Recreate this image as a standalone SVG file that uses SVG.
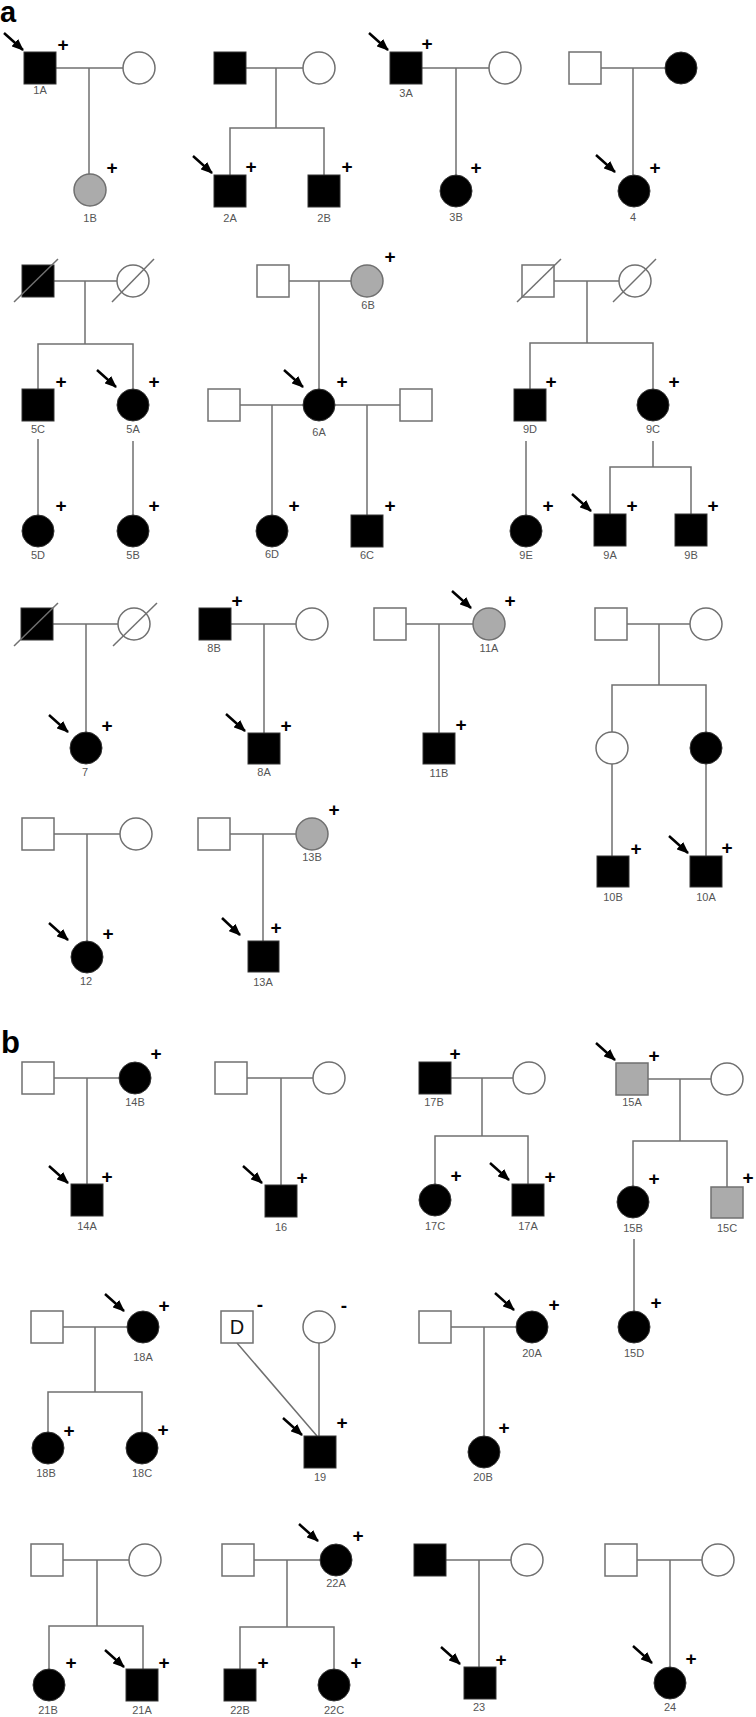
<svg xmlns="http://www.w3.org/2000/svg" width="756" height="1717" viewBox="0 0 756 1717">
<style>
.ln{stroke:#707070;stroke-width:1.5;fill:none}
.o{fill:#fff;stroke:#707070;stroke-width:1.5}
.f{fill:#000;stroke:#333;stroke-width:1}
.g{fill:#ababab;stroke:#707070;stroke-width:1.5}
.sl{stroke:#707070;stroke-width:1.5}
.lb{font-family:"Liberation Sans",Arial,sans-serif;font-size:11px;fill:#555;text-anchor:middle}
.p{font-family:"Liberation Sans",Arial,sans-serif;font-size:19px;font-weight:bold;fill:#000;text-anchor:middle}
.ar{stroke:#000;stroke-width:2.5;marker-end:url(#ah)}
.hd{font-family:"Liberation Sans",Arial,sans-serif;font-weight:bold;fill:#000}
</style>
<defs>
<marker id="ah" markerUnits="userSpaceOnUse" markerWidth="12" markerHeight="10" refX="11" refY="5" orient="auto">
<path d="M0,0 L12,5 L0,10 z" fill="#000"/>
</marker>
</defs>
<rect width="756" height="1717" fill="#fff"/>
<text class="hd" x="0" y="22" font-size="29">a</text>
<text class="hd" x="1" y="1053" font-size="31">b</text>

<g id="connectors">
<path class="ln" d="M56,68H123M89,68V174"/>
<path class="ln" d="M246,68H303M276,68V128M230,175V128H324V175"/>
<path class="ln" d="M422,68H489M456,68V175"/>
<path class="ln" d="M601,68H665M633,68V175"/>
<path class="ln" d="M53,281H117M85,281V344M38,389V344H133V389M38,439V515M133,441V515"/>
<path class="ln" d="M289,281H351M319,281V389M240,405H303M272,405V515M335,405H400M367,405V515"/>
<path class="ln" d="M554,281H619M587,281V343M530,389V343H653V389M526,441V515M653,441V467M610,514V467H691V514"/>
<path class="ln" d="M53,624H118M86,624V732"/>
<path class="ln" d="M231,624H296M264,624V733"/>
<path class="ln" d="M406,624H473M439,624V733"/>
<path class="ln" d="M627,624H690M659,624V685M612,732V685H706V732M612,764V856M706,764V856"/>
<path class="ln" d="M54,834H120M87,834V941"/>
<path class="ln" d="M230,834H296M263,834V941"/>
<path class="ln" d="M54,1078H119M87,1078V1184"/>
<path class="ln" d="M247,1078H313M281,1078V1185"/>
<path class="ln" d="M451,1078H513M482,1078V1136M435,1184V1136H528V1184"/>
<path class="ln" d="M648,1079H711M680,1079V1141M633,1186V1141H727V1187M634,1239V1311"/>
<path class="ln" d="M63,1327H127M95,1327V1392M48,1432V1392H142V1432"/>
<path class="ln" d="M237,1343L317,1436M319,1343V1436"/>
<path class="ln" d="M451,1327H516M484,1327V1436"/>
<path class="ln" d="M63,1560H129M97,1560V1626M49,1669V1626H143V1669"/>
<path class="ln" d="M254,1560H320M287,1560V1627M240,1669V1627H334V1669"/>
<path class="ln" d="M446,1560H511M479,1560V1667"/>
<path class="ln" d="M637,1560H702M670,1560V1667"/>
</g>

<g id="n1A"><rect class="f" x="24" y="52" width="32" height="32"/><text class="lb" x="40" y="94">1A</text><text class="p" x="63" y="51">+</text><line class="ar" x1="4" y1="33" x2="23" y2="50"/></g>
<g id="n1W"><circle class="o" cx="139" cy="68" r="16"/></g>
<g id="n1B"><circle class="g" cx="90" cy="190" r="16"/><text class="lb" x="90" y="222">1B</text><text class="p" x="112" y="174">+</text></g>

<g id="n2F"><rect class="f" x="214" y="52" width="32" height="32"/></g>
<g id="n2M"><circle class="o" cx="319" cy="68" r="16"/></g>
<g id="n2A"><rect class="f" x="214" y="175" width="32" height="32"/><text class="lb" x="230" y="222">2A</text><text class="p" x="251" y="173">+</text><line class="ar" x1="193" y1="156" x2="212" y2="173"/></g>
<g id="n2B"><rect class="f" x="308" y="175" width="32" height="32"/><text class="lb" x="324" y="222">2B</text><text class="p" x="347" y="173">+</text></g>

<g id="n3A"><rect class="f" x="390" y="52" width="32" height="32"/><text class="lb" x="406" y="97">3A</text><text class="p" x="427" y="50">+</text><line class="ar" x1="369" y1="33" x2="388" y2="50"/></g>
<g id="n3M"><circle class="o" cx="505" cy="68" r="16"/></g>
<g id="n3B"><circle class="f" cx="456" cy="191" r="16"/><text class="lb" x="456" y="221">3B</text><text class="p" x="476" y="174">+</text></g>

<g id="n4F"><rect class="o" x="569" y="52" width="32" height="32"/></g>
<g id="n4M"><circle class="f" cx="681" cy="68" r="16"/></g>
<g id="n4"><circle class="f" cx="634" cy="191" r="16"/><text class="lb" x="633" y="221">4</text><text class="p" x="655" y="174">+</text><line class="ar" x1="596" y1="155" x2="615" y2="172"/></g>

<g id="n5F"><rect class="f" x="22" y="265" width="32" height="32"/><line class="sl" x1="14" y1="302" x2="58" y2="259"/></g>
<g id="n5M"><circle class="o" cx="133" cy="281" r="16"/><line class="sl" x1="112" y1="302" x2="154" y2="259"/></g>
<g id="n5C"><rect class="f" x="22" y="389" width="32" height="32"/><text class="lb" x="38" y="433">5C</text><text class="p" x="61" y="388">+</text></g>
<g id="n5A"><circle class="f" cx="133" cy="405" r="16"/><text class="lb" x="133" y="433">5A</text><text class="p" x="154" y="388">+</text><line class="ar" x1="97" y1="370" x2="116" y2="387"/></g>
<g id="n5D"><circle class="f" cx="38" cy="531" r="16"/><text class="lb" x="38" y="559">5D</text><text class="p" x="61" y="512">+</text></g>
<g id="n5B"><circle class="f" cx="133" cy="531" r="16"/><text class="lb" x="133" y="559">5B</text><text class="p" x="154" y="512">+</text></g>

<g id="n6F"><rect class="o" x="257" y="265" width="32" height="32"/></g>
<g id="n6B"><circle class="g" cx="367" cy="281" r="16"/><text class="lb" x="368" y="309">6B</text><text class="p" x="390" y="263">+</text></g>
<g id="n6A"><circle class="f" cx="319" cy="405" r="16"/><text class="lb" x="319" y="436">6A</text><text class="p" x="342" y="388">+</text><line class="ar" x1="284" y1="370" x2="303" y2="387"/></g>
<g id="n6S1"><rect class="o" x="208" y="389" width="32" height="32"/></g>
<g id="n6S2"><rect class="o" x="400" y="389" width="32" height="32"/></g>
<g id="n6D"><circle class="f" cx="272" cy="531" r="16"/><text class="lb" x="272" y="558">6D</text><text class="p" x="294" y="512">+</text></g>
<g id="n6C"><rect class="f" x="351" y="515" width="32" height="32"/><text class="lb" x="367" y="559">6C</text><text class="p" x="390" y="512">+</text></g>

<g id="n9F"><rect class="o" x="522" y="265" width="32" height="32"/><line class="sl" x1="517" y1="302" x2="561" y2="259"/></g>
<g id="n9M"><circle class="o" cx="635" cy="281" r="16"/><line class="sl" x1="613" y1="302" x2="656" y2="259"/></g>
<g id="n9D"><rect class="f" x="514" y="389" width="32" height="32"/><text class="lb" x="530" y="433">9D</text><text class="p" x="551" y="388">+</text></g>
<g id="n9C"><circle class="f" cx="653" cy="405" r="16"/><text class="lb" x="653" y="433">9C</text><text class="p" x="674" y="388">+</text></g>
<g id="n9E"><circle class="f" cx="526" cy="531" r="16"/><text class="lb" x="526" y="559">9E</text><text class="p" x="548" y="512">+</text></g>
<g id="n9A"><rect class="f" x="594" y="514" width="32" height="32"/><text class="lb" x="610" y="559">9A</text><text class="p" x="632" y="512">+</text><line class="ar" x1="572" y1="494" x2="591" y2="511"/></g>
<g id="n9B"><rect class="f" x="675" y="514" width="32" height="32"/><text class="lb" x="691" y="559">9B</text><text class="p" x="713" y="512">+</text></g>

<g id="n7F"><rect class="f" x="21" y="608" width="32" height="32"/><line class="sl" x1="14" y1="646" x2="58" y2="603"/></g>
<g id="n7M"><circle class="o" cx="134" cy="624" r="16"/><line class="sl" x1="113" y1="646" x2="157" y2="603"/></g>
<g id="n7"><circle class="f" cx="86" cy="748" r="16"/><text class="lb" x="85" y="776">7</text><text class="p" x="107" y="732">+</text><line class="ar" x1="49" y1="715" x2="68" y2="732"/></g>

<g id="n8B"><rect class="f" x="199" y="608" width="32" height="32"/><text class="lb" x="214" y="652">8B</text><text class="p" x="237" y="607">+</text></g>
<g id="n8M"><circle class="o" cx="312" cy="624" r="16"/></g>
<g id="n8A"><rect class="f" x="248" y="733" width="32" height="31"/><text class="lb" x="264" y="776">8A</text><text class="p" x="286" y="732">+</text><line class="ar" x1="226" y1="714" x2="245" y2="731"/></g>

<g id="n11F"><rect class="o" x="374" y="608" width="32" height="32"/></g>
<g id="n11A"><circle class="g" cx="489" cy="624" r="16"/><text class="lb" x="489" y="652">11A</text><text class="p" x="510" y="607">+</text><line class="ar" x1="452" y1="591" x2="471" y2="608"/></g>
<g id="n11B"><rect class="f" x="423" y="733" width="32" height="31"/><text class="lb" x="439" y="777">11B</text><text class="p" x="461" y="731">+</text></g>

<g id="n10F"><rect class="o" x="595" y="608" width="32" height="32"/></g>
<g id="n10M"><circle class="o" cx="706" cy="624" r="16"/></g>
<g id="n10D1"><circle class="o" cx="612" cy="748" r="16"/></g>
<g id="n10D2"><circle class="f" cx="706" cy="748" r="16"/></g>
<g id="n10B"><rect class="f" x="597" y="856" width="32" height="31"/><text class="lb" x="613" y="901">10B</text><text class="p" x="636" y="855">+</text></g>
<g id="n10A"><rect class="f" x="690" y="856" width="32" height="31"/><text class="lb" x="706" y="901">10A</text><text class="p" x="727" y="854">+</text><line class="ar" x1="669" y1="836" x2="688" y2="853"/></g>

<g id="n12F"><rect class="o" x="22" y="818" width="32" height="32"/></g>
<g id="n12M"><circle class="o" cx="136" cy="834" r="16"/></g>
<g id="n12"><circle class="f" cx="87" cy="957" r="16"/><text class="lb" x="86" y="985">12</text><text class="p" x="108" y="940">+</text><line class="ar" x1="49" y1="923" x2="68" y2="940"/></g>

<g id="n13F"><rect class="o" x="198" y="818" width="32" height="32"/></g>
<g id="n13B"><circle class="g" cx="312" cy="834" r="16"/><text class="lb" x="312" y="861">13B</text><text class="p" x="334" y="816">+</text></g>
<g id="n13A"><rect class="f" x="248" y="941" width="31" height="31"/><text class="lb" x="263" y="986">13A</text><text class="p" x="276" y="934">+</text><line class="ar" x1="222" y1="918" x2="240" y2="935"/></g>

<g id="n14F"><rect class="o" x="22" y="1062" width="32" height="32"/></g>
<g id="n14B"><circle class="f" cx="135" cy="1078" r="16"/><text class="lb" x="135" y="1106">14B</text><text class="p" x="156" y="1060">+</text></g>
<g id="n14A"><rect class="f" x="71" y="1184" width="32" height="32"/><text class="lb" x="87" y="1230">14A</text><text class="p" x="107" y="1183">+</text><line class="ar" x1="49" y1="1166" x2="68" y2="1183"/></g>

<g id="n16F"><rect class="o" x="215" y="1062" width="32" height="32"/></g>
<g id="n16M"><circle class="o" cx="329" cy="1078" r="16"/></g>
<g id="n16"><rect class="f" x="265" y="1185" width="32" height="32"/><text class="lb" x="281" y="1231">16</text><text class="p" x="302" y="1184">+</text><line class="ar" x1="243" y1="1166" x2="262" y2="1183"/></g>

<g id="n17B"><rect class="f" x="419" y="1062" width="32" height="32"/><text class="lb" x="434" y="1106">17B</text><text class="p" x="455" y="1060">+</text></g>
<g id="n17M"><circle class="o" cx="529" cy="1078" r="16"/></g>
<g id="n17C"><circle class="f" cx="435" cy="1200" r="16"/><text class="lb" x="435" y="1230">17C</text><text class="p" x="456" y="1182">+</text></g>
<g id="n17A"><rect class="f" x="512" y="1184" width="32" height="32"/><text class="lb" x="528" y="1230">17A</text><text class="p" x="550" y="1183">+</text><line class="ar" x1="490" y1="1163" x2="509" y2="1180"/></g>

<g id="n15A"><rect class="g" x="616" y="1063" width="32" height="32"/><text class="lb" x="632" y="1106">15A</text><text class="p" x="654" y="1062">+</text><line class="ar" x1="596" y1="1043" x2="615" y2="1060"/></g>
<g id="n15M"><circle class="o" cx="727" cy="1079" r="16"/></g>
<g id="n15B"><circle class="f" cx="633" cy="1202" r="16"/><text class="lb" x="633" y="1232">15B</text><text class="p" x="654" y="1185">+</text></g>
<g id="n15C"><rect class="g" x="711" y="1187" width="32" height="31"/><text class="lb" x="727" y="1232">15C</text><text class="p" x="748" y="1184">+</text></g>
<g id="n15D"><circle class="f" cx="634" cy="1327" r="16"/><text class="lb" x="634" y="1357">15D</text><text class="p" x="656" y="1309">+</text></g>

<g id="n18F"><rect class="o" x="31" y="1311" width="32" height="32"/></g>
<g id="n18A"><circle class="f" cx="143" cy="1327" r="16"/><text class="lb" x="143" y="1361">18A</text><text class="p" x="164" y="1312">+</text><line class="ar" x1="105" y1="1294" x2="124" y2="1311"/></g>
<g id="n18B"><circle class="f" cx="48" cy="1448" r="16"/><text class="lb" x="46" y="1477">18B</text><text class="p" x="69" y="1437">+</text></g>
<g id="n18C"><circle class="f" cx="142" cy="1448" r="16"/><text class="lb" x="142" y="1477">18C</text><text class="p" x="163" y="1436">+</text></g>

<g id="n19D"><rect class="o" x="221" y="1311" width="32" height="32"/><text x="237" y="1334" font-family="Liberation Sans,Arial,sans-serif" font-size="20" text-anchor="middle" fill="#111">D</text><text class="p" x="260" y="1311">-</text></g>
<g id="n19M"><circle class="o" cx="319" cy="1327" r="16"/><text class="p" x="344" y="1312">-</text></g>
<g id="n19"><rect class="f" x="304" y="1436" width="32" height="32"/><text class="lb" x="320" y="1481">19</text><text class="p" x="342" y="1429">+</text><line class="ar" x1="283" y1="1418" x2="302" y2="1435"/></g>

<g id="n20F"><rect class="o" x="419" y="1311" width="32" height="32"/></g>
<g id="n20A"><circle class="f" cx="532" cy="1327" r="16"/><text class="lb" x="532" y="1357">20A</text><text class="p" x="554" y="1311">+</text><line class="ar" x1="495" y1="1293" x2="514" y2="1310"/></g>
<g id="n20B"><circle class="f" cx="484" cy="1452" r="16"/><text class="lb" x="483" y="1481">20B</text><text class="p" x="504" y="1434">+</text></g>

<g id="n21F"><rect class="o" x="31" y="1544" width="32" height="32"/></g>
<g id="n21M"><circle class="o" cx="145" cy="1560" r="16"/></g>
<g id="n21B"><circle class="f" cx="49" cy="1685" r="16"/><text class="lb" x="48" y="1714">21B</text><text class="p" x="71" y="1669">+</text></g>
<g id="n21A"><rect class="f" x="126" y="1669" width="32" height="32"/><text class="lb" x="142" y="1714">21A</text><text class="p" x="164" y="1669">+</text><line class="ar" x1="105" y1="1650" x2="124" y2="1667"/></g>

<g id="n22F"><rect class="o" x="222" y="1544" width="32" height="32"/></g>
<g id="n22A"><circle class="f" cx="336" cy="1560" r="16"/><text class="lb" x="336" y="1587">22A</text><text class="p" x="358" y="1542">+</text><line class="ar" x1="299" y1="1524" x2="318" y2="1541"/></g>
<g id="n22B"><rect class="f" x="224" y="1669" width="32" height="32"/><text class="lb" x="240" y="1714">22B</text><text class="p" x="263" y="1669">+</text></g>
<g id="n22C"><circle class="f" cx="334" cy="1685" r="16"/><text class="lb" x="334" y="1714">22C</text><text class="p" x="356" y="1669">+</text></g>

<g id="n23F"><rect class="f" x="414" y="1544" width="32" height="32"/></g>
<g id="n23M"><circle class="o" cx="527" cy="1560" r="16"/></g>
<g id="n23"><rect class="f" x="464" y="1667" width="32" height="32"/><text class="lb" x="479" y="1711">23</text><text class="p" x="501" y="1666">+</text><line class="ar" x1="441" y1="1647" x2="460" y2="1664"/></g>

<g id="n24F"><rect class="o" x="605" y="1544" width="32" height="32"/></g>
<g id="n24M"><circle class="o" cx="718" cy="1560" r="16"/></g>
<g id="n24"><circle class="f" cx="670" cy="1683" r="16"/><text class="lb" x="670" y="1711">24</text><text class="p" x="691" y="1665">+</text><line class="ar" x1="633" y1="1646" x2="652" y2="1663"/></g>
</svg>
